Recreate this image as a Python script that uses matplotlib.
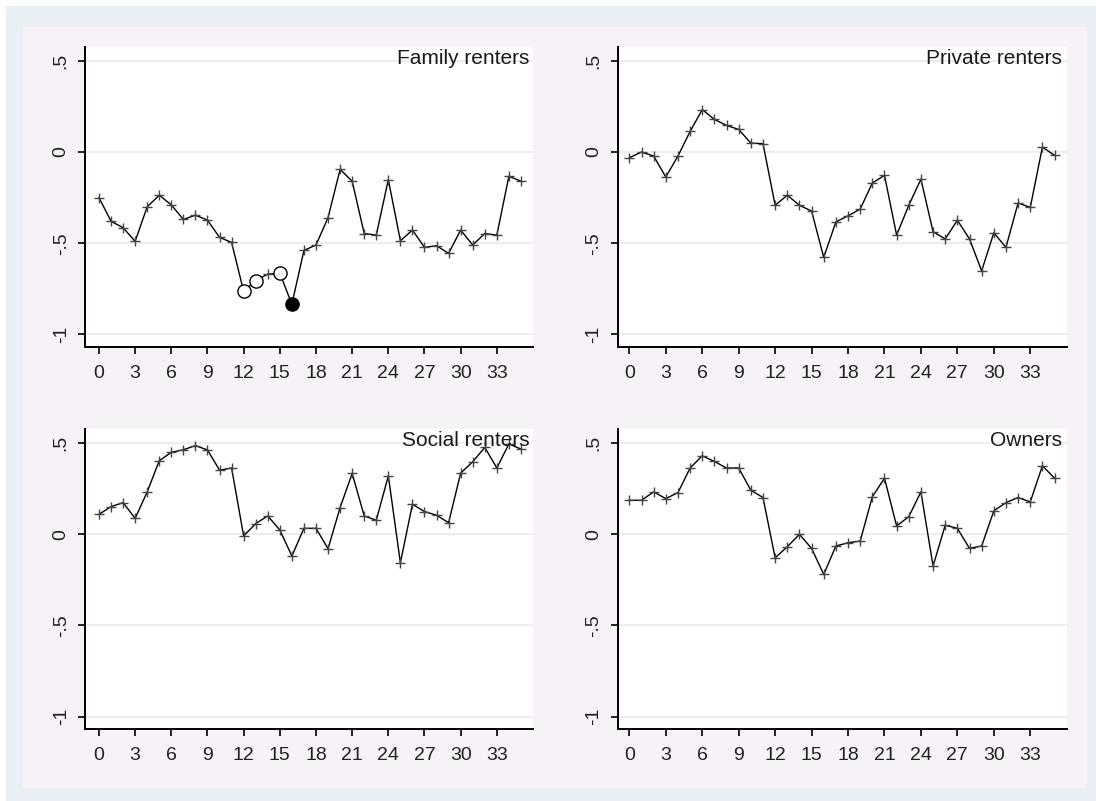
import matplotlib
matplotlib.use('Agg')
import matplotlib.pyplot as plt
from matplotlib.patches import Rectangle

W, H = 1096, 801

periods = list(range(36))
xticks = list(range(0, 36, 3))
yticks = [-1, -0.5, 0, 0.5]
ytick_labels = ['-1', '-.5', '0', '.5']

family = [-0.25, -0.38, -0.415, -0.49, -0.30, -0.237, -0.29, -0.37, -0.346, -0.374,
          -0.468, -0.496, -0.765, -0.705, -0.67, -0.665, -0.835, -0.54, -0.51, -0.36,
          -0.095, -0.16, -0.447, -0.456, -0.151, -0.487, -0.428, -0.523, -0.514, -0.556,
          -0.428, -0.51, -0.447, -0.456, -0.133, -0.16]
private = [-0.031, 0.0, -0.022, -0.137, -0.022, 0.113, 0.233, 0.179, 0.146, 0.124,
           0.049, 0.046, -0.292, -0.237, -0.292, -0.324, -0.578, -0.383, -0.35, -0.313,
           -0.17, -0.128, -0.456, -0.292, -0.149, -0.437, -0.477, -0.374, -0.477, -0.652,
           -0.443, -0.523, -0.279, -0.304, 0.027, -0.018]
social = [0.11, 0.152, 0.174, 0.088, 0.233, 0.404, 0.45, 0.464, 0.487, 0.463,
          0.352, 0.364, -0.009, 0.059, 0.101, 0.024, -0.119, 0.033, 0.033, -0.079,
          0.147, 0.334, 0.101, 0.077, 0.321, -0.156, 0.165, 0.125, 0.105, 0.064,
          0.336, 0.398, 0.477, 0.364, 0.496, 0.468]
owners = [0.187, 0.187, 0.233, 0.196, 0.229, 0.364, 0.431, 0.40, 0.364, 0.364,
          0.242, 0.202, -0.129, -0.068, 0.0, -0.077, -0.22, -0.064, -0.046, -0.037,
          0.206, 0.308, 0.046, 0.097, 0.233, -0.174, 0.05, 0.033, -0.077, -0.064,
          0.129, 0.174, 0.202, 0.178, 0.376, 0.308]

titles = ['Family renters', 'Private renters', 'Social renters', 'Owners']
series = [family, private, social, owners]
family_open = [12, 13, 15]
family_filled = [16]

plt.rcParams['font.family'] = ['Liberation Sans', 'DejaVu Sans']

fig = plt.figure(figsize=(W / 100, H / 100), dpi=100)
fig.patch.set_facecolor('white')


def fr(left, top, right, bottom):
    return [left / W, 1 - bottom / H, (right - left) / W, (bottom - top) / H]


def rect(left, top, right, bottom, color):
    x, y, w, h = fr(left, top, right, bottom)
    fig.patches.append(Rectangle((x, y), w, h, transform=fig.transFigure,
                                 facecolor=color, edgecolor='none', zorder=-10))


rect(6, 6, 1096, 801, '#EAEFF5')
rect(23, 27, 1087, 788, '#F6F2F7')

boxes = [(85, 46.7, 533, 346.7, -1.16),
         (617.7, 46.7, 1066.7, 346.7, -0.96),
         (85, 429, 533, 729, -1.16),
         (617.7, 429, 1066.7, 729, -0.96)]
title_x = [0.993, 0.989, 0.993, 0.989]

for i, (l, t, r, b, x0) in enumerate(boxes):
    ax = fig.add_axes(fr(l, t, r, b))
    ax.set_facecolor('white')
    ax.set_xlim(x0, 36.0)
    ax.set_ylim(-1.068, 0.578)
    for yv in yticks:
        ax.axhline(yv, color='#EAEAEA', lw=1.2, zorder=0)
    vals = series[i]
    ax.plot(periods, vals, color='black', lw=1.0, zorder=2)
    if i == 0:
        special = set(family_open + family_filled)
        px = [p for p in periods if p not in special]
        py = [vals[p] for p in px]
        ax.plot(px, py, ls='none', marker='+', ms=7.5, mew=1.0, color='#444444', zorder=3)
        ax.plot(family_open, [vals[p] for p in family_open], ls='none', marker='o',
                ms=9.5, mfc='white', mec='black', mew=1.0, zorder=4)
        ax.plot(family_filled, [vals[p] for p in family_filled], ls='none', marker='o',
                ms=9.5, mfc='black', mec='black', mew=1.0, zorder=4)
    else:
        ax.plot(periods, vals, ls='none', marker='+', ms=7.5, mew=1.0, color='#444444', zorder=3)
    for side in ['top', 'right']:
        ax.spines[side].set_visible(False)
    for side in ['left', 'bottom']:
        ax.spines[side].set_linewidth(1.4)
        ax.spines[side].set_color('black')
    ax.set_xticks(xticks)
    ax.set_xticklabels([str(v) for v in xticks])
    ax.set_yticks(yticks)
    ax.set_yticklabels(ytick_labels, rotation=90, va='center')
    ax.tick_params(axis='both', length=5, width=1.2, color='black',
                   labelsize=14, labelcolor='#222222')
    ax.tick_params(axis='x', pad=8)
    ax.tick_params(axis='y', pad=6)
    ax.text(title_x[i], 0.962, titles[i], transform=ax.transAxes, ha='right', va='center',
            fontsize=15, color='#1a1a1a', zorder=5)

fig.savefig('out.png', dpi=100, facecolor=fig.get_facecolor())
